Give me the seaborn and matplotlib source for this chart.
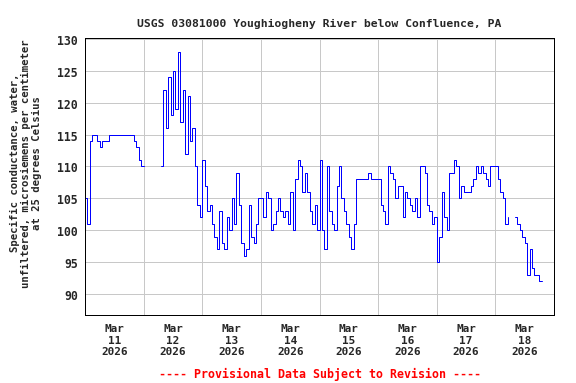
import numpy as np
import pandas as pd
import matplotlib
matplotlib.use("Agg")
import matplotlib.pyplot as plt
import matplotlib.dates as mdates
import seaborn as sns

# hourly specific conductance readings (uS/cm)
nan = np.nan
mar11 = [105, 101, 114, 115, 115, 114, 113, 114, 114, 114, 115, 115,
         115, 115, 115, 115, 115, 115, 115, 115, 114, 113, 111, 110]
mar12 = [110, nan, nan, nan, nan, nan, nan, 110, 122, 116, 124, 118,
         125, 119, 128, 117, 122, 112, 121, 114, 116, 110, 104, 102]
mar13 = [111, 107, 103, 104, 101, 99, 97, 103, 98, 97, 102, 100,
         105, 101, 109, 104, 98, 96, 97, 104, 99, 98, 101, 105]
mar14 = [105, 102, 106, 105, 100, 101, 103, 105, 103, 102, 103, 101,
         106, 100, 108, 111, 110, 106, 109, 106, 103, 101, 104, 100]
mar15 = [111, 100, 97, 110, 103, 101, 100, 107, 110, 105, 103, 101,
         99, 97, 101, 108, 108, 108, 108, 108, 109, 108, 108, 108]
mar16 = [108, 104, 103, 101, 110, 109, 108, 105, 107, 107, 102, 106,
         105, 104, 103, 105, 102, 110, 110, 109, 104, 103, 101, 102]
mar17 = [95, 99, 106, 102, 100, 109, 109, 111, 110, 105, 107, 106,
         106, 106, 107, 108, 110, 109, 110, 109, 108, 107, 110, 110]
mar18 = [110, 108, 106, 105, 101, 102, nan, nan, 102, 101, 100, 99,
         98, 93, 97, 94, 93, 93, 92, 92, nan, nan, nan, nan]

values = mar11 + mar12 + mar13 + mar14 + mar15 + mar16 + mar17 + mar18
times = pd.date_range("2026-03-11 00:00", periods=len(values), freq="h")

df = pd.DataFrame({"time": times, "value": values})
df["segment"] = df["value"].isna().cumsum()
df = df.dropna()

sns.set_theme(style="white")
plt.rcParams.update({
    "font.family": "monospace",
    "font.monospace": ["DejaVu Sans Mono"],
    "font.weight": "bold",
    "axes.labelweight": "bold",
})

fig = plt.figure(figsize=(8, 5.3333), dpi=72)
ax = fig.add_axes([0.1476, 0.177, 0.8142, 0.7214])

sns.lineplot(data=df, x="time", y="value", units="segment", estimator=None,
             color="#0000ff", linewidth=1, drawstyle="steps-post", ax=ax)

ax.set_xlim(pd.Timestamp("2026-03-11"), pd.Timestamp("2026-03-19"))
ax.set_ylim(86.7, 130.15)
ax.set_yticks(np.arange(90, 131, 5))

# gridlines at midnight, date labels at noon
ax.xaxis.set_major_locator(mdates.DayLocator())
ax.xaxis.set_major_formatter(plt.NullFormatter())
ax.xaxis.set_minor_locator(mdates.HourLocator(byhour=12))
ax.xaxis.set_minor_formatter(mdates.DateFormatter("%b\n%d\n%Y"))
ax.tick_params(axis="x", which="both", length=0, labelsize=11, pad=8)
ax.tick_params(axis="y", length=0, labelsize=11.5, pad=7)
ax.grid(True, which="major", color="#c8c8c8", linewidth=1)

for spine in ax.spines.values():
    spine.set_color("black")
    spine.set_linewidth(1)

ax.set_xlabel("")
ax.set_ylabel("")
ax.set_title("USGS 03081000 Youghiogheny River below Confluence, PA",
             fontsize=11.4, fontweight="bold", pad=12)
fig.text(0.045, 0.575,
         "Specific conductance, water,\nunfiltered, microsiemens per centimeter\nat 25 degrees Celsius",
         rotation=90, ha="center", va="center", fontsize=10.6,
         fontweight="bold", linespacing=1.1)
fig.text(0.5547, 0.024, "---- Provisional Data Subject to Revision ----",
         color="red", ha="center", va="center", fontsize=11.6, fontweight="bold")

fig.savefig("out.png", dpi=72)
